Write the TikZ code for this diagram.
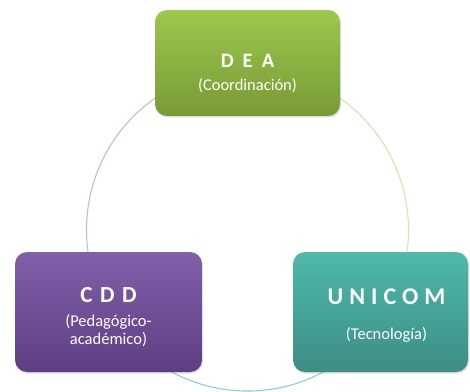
\documentclass[tikz,border=0pt]{standalone}
\usepackage{fontspec}
\setmainfont{Carlito}
\usetikzlibrary{shadows}
\definecolor{deatop}{HTML}{9DC84C}
\definecolor{deabot}{HTML}{789A37}
\definecolor{cddtop}{HTML}{8060A9}
\definecolor{cddbot}{HTML}{5E3E83}
\definecolor{unitop}{HTML}{4EB9AB}
\definecolor{unibot}{HTML}{3D8D84}
\begin{document}
\begin{tikzpicture}[x=1pt, y=1pt,
	box/.style={rectangle, rounded corners=12pt, text=white, align=center, inner sep=0pt,
		font=\fontsize{16.5}{18}\selectfont,
		drop shadow={opacity=0.25, shadow xshift=1pt, shadow yshift=-1.5pt}},
	ring/.style={line width=1.1pt}]
	\useasboundingbox (0,0) rectangle (470,391);
	\coordinate (ctr) at (247.5,161);
	
	% ring behind the boxes
	\draw[ring, color=cddtop!45] (ctr) ++(90:161pt) arc (90:210:161pt);
	\draw[ring, color=deatop!45] (ctr) ++(-30:161pt) arc (-30:90:161pt);
	\draw[ring, color=unitop!65] (ctr) ++(210:161pt) arc (210:330:161pt);
	
	\node (dea) at (247.5,328) [box, minimum width=185pt, minimum height=106pt, top color=deatop, bottom color=deabot]
		{\rule{0pt}{35pt}{\fontsize{20.5}{22}\selectfont\bfseries D\kern9pt E\kern9pt A}\\[5pt](Coordinación)};
	\node (cdd) at (108.5,79) [box, minimum width=187pt, minimum height=120pt, top color=cddtop, bottom color=cddbot]
		{\rule{0pt}{25pt}{\fontsize{23}{24}\selectfont\bfseries C\kern7.5pt D\kern7.5pt D}\\[6pt](Pedagógico-\\académico)};
	\node (unicom) at (380.5,79) [box, minimum width=175pt, minimum height=120pt, top color=unitop, bottom color=unibot]
		{\hspace*{12pt}\rule{0pt}{23pt}{\fontsize{24}{25}\selectfont\bfseries U\kern6pt N\kern6pt I\kern6pt C\kern6pt O\kern6pt M}\\[17pt]\hspace*{12pt}(Tecnología)};
\end{tikzpicture}
\end{document}
